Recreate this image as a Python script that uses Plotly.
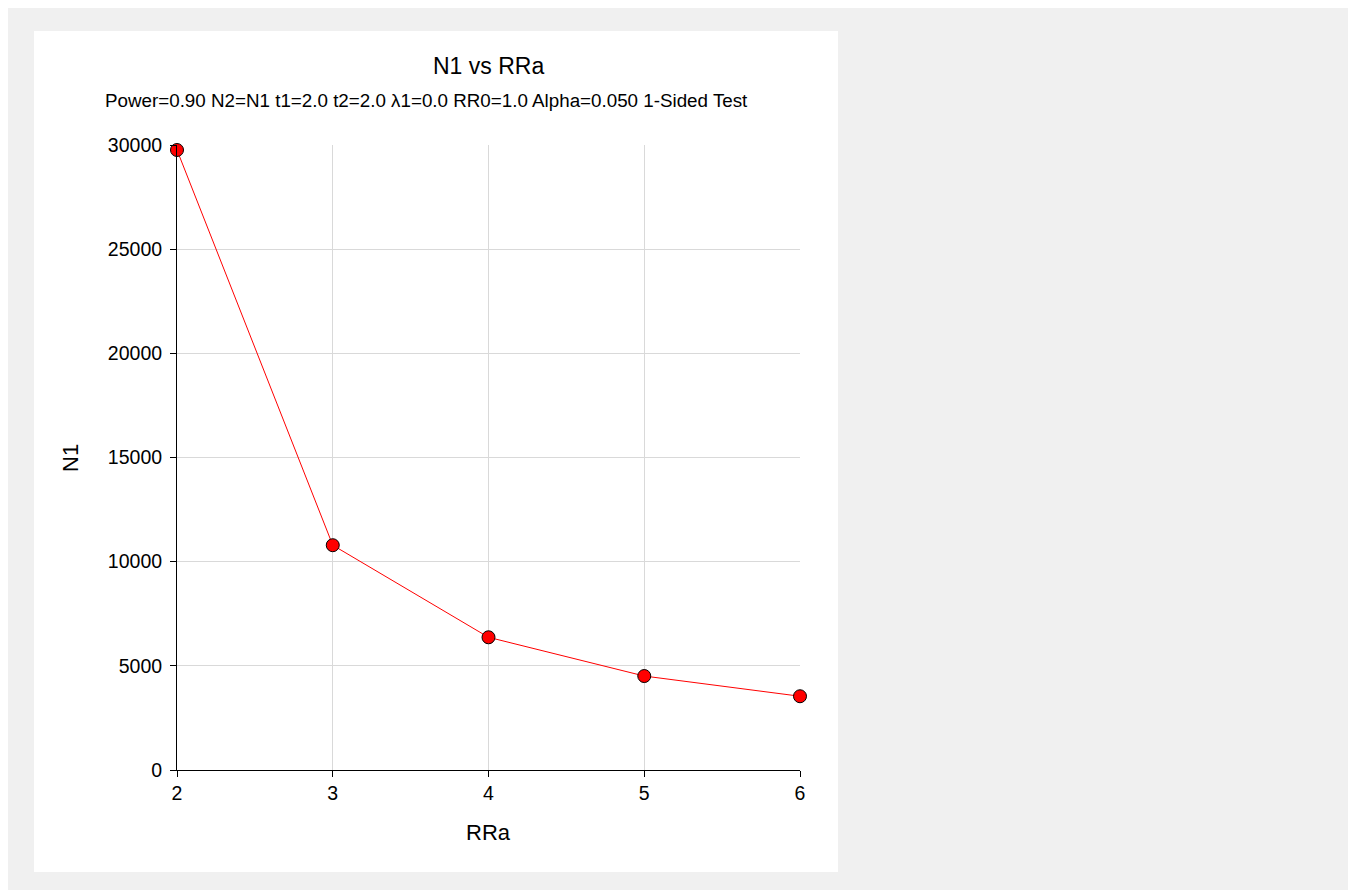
import plotly.graph_objects as go

rra = [2, 3, 4, 5, 6]
n1 = [29760, 10790, 6370, 4510, 3540]
x_ticks = [2, 3, 4, 5, 6]
y_ticks = [0, 5000, 10000, 15000, 20000, 25000, 30000]
y_tick_labels = ["0", "5000", "10000", "15000", "20000", "25000", "30000"]
title_text = "N1 vs RRa"
subtitle_text = "Power=0.90 N2=N1 t1=2.0 t2=2.0 \u03bb1=0.0 RR0=1.0 Alpha=0.050 1-Sided Test"

W, H = 1348, 882
L, R, T, B = 169, 556, 137, 120
PW, PH = W - L - R, H - T - B

def px(x):
    return (x - 8 - L) / PW

def py(y):
    return (H - B - (y - 8)) / PH

FONT = "Arial, Liberation Sans, sans-serif"

fig = go.Figure()
fig.add_trace(go.Scatter(
    x=rra, y=n1, mode="lines+markers",
    line=dict(color="#ff0000", width=1),
    marker=dict(size=13, color="#ff0000", line=dict(color="#000000", width=1)),
    cliponaxis=False, showlegend=False,
))

fig.update_layout(
    width=W, height=H,
    margin=dict(l=L, r=R, t=T, b=B, pad=0),
    paper_bgcolor="#f0f0f0",
    plot_bgcolor="#ffffff",
    font=dict(family=FONT, color="#000000"),
    shapes=[dict(type="rect", xref="paper", yref="paper", layer="below",
                 x0=px(34), x1=px(838), y0=py(872), y1=py(31),
                 fillcolor="#ffffff", line=dict(width=0))],
    annotations=[
        dict(text=title_text, xref="paper", yref="paper", x=px(488), y=py(66),
             xanchor="center", yanchor="middle", showarrow=False, font=dict(size=23)),
        dict(text=subtitle_text, xref="paper", yref="paper", x=px(426), y=py(101),
             xanchor="center", yanchor="middle", showarrow=False, font=dict(size=18.8)),
        dict(text="N1", xref="paper", yref="paper", x=px(70), y=py(458), textangle=-90,
             xanchor="center", yanchor="middle", showarrow=False, font=dict(size=22)),
        dict(text="RRa", xref="paper", yref="paper", x=px(488), y=py(832),
             xanchor="center", yanchor="middle", showarrow=False, font=dict(size=22)),
    ],
    xaxis=dict(range=[2, 6], tickvals=x_ticks, ticks="outside", ticklen=6, tickcolor="#000",
               showline=True, linecolor="#000", linewidth=1, showgrid=True,
               gridcolor="#d9d9d9", gridwidth=1, zeroline=False,
               tickfont=dict(size=19.5), ticklabelstandoff=0),
    yaxis=dict(range=[0, 30000], tickvals=y_ticks, ticktext=y_tick_labels, ticks="outside",
               ticklen=6, tickcolor="#000",
               showline=True, linecolor="#000", linewidth=1, showgrid=True,
               gridcolor="#d9d9d9", gridwidth=1, zeroline=False,
               tickfont=dict(size=19.5), ticklabelstandoff=4),
)

fig.write_html("out.html")
